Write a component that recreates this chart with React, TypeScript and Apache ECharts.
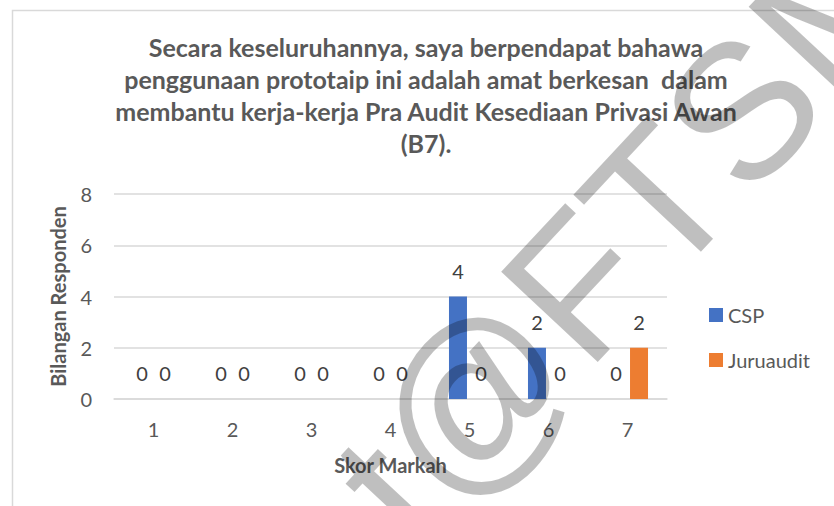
import React, { useEffect, useRef } from "react";
import * as echarts from "echarts";

const categories = ["1", "2", "3", "4", "5", "6", "7"];
const cspValues = [0, 0, 0, 0, 4, 2, 0];
const juruauditValues = [0, 0, 0, 0, 0, 0, 2];
const yTicks = { min: 0, max: 8, interval: 2 };
const titleText =
  "Secara keseluruhannya, saya berpendapat bahawa\npenggunaan prototaip ini adalah amat berkesan  dalam\nmembantu kerja-kerja Pra Audit Kesediaan Privasi Awan\n(B7).";
const watermarkText = "t@FTSM";

const FONT = "Lato, 'Open Sans', sans-serif";

export default function App() {
  const ref = useRef<HTMLDivElement>(null);
  useEffect(() => {
    if (!ref.current) return;
    const chart = echarts.init(ref.current, null, { renderer: "svg" });
    const rot = (47 * Math.PI) / 180;
    chart.setOption({
      animation: false,
      backgroundColor: "#ffffff",
      title: {
        text: titleText,
        left: 426,
        top: 31,
        padding: 0,
        textAlign: "center",
        textStyle: {
          fontFamily: FONT,
          fontWeight: "bold",
          fontSize: 25,
          lineHeight: 32,
          color: "#595959",
        },
      },
      legend: {
        orient: "vertical",
        left: 709,
        top: 305,
        padding: 0,
        itemWidth: 14,
        itemHeight: 14,
        itemGap: 25,
        icon: "rect",
        textStyle: { fontFamily: FONT, fontSize: 20, lineHeight: 20, color: "#595959" },
        data: ["CSP", "Juruaudit"],
      },
      grid: { left: 114, right: 167, top: 194, bottom: 107, containLabel: false },
      xAxis: {
        type: "category",
        data: categories,
        name: "Skor Markah",
        nameLocation: "middle",
        nameGap: 56,
        nameTextStyle: { fontFamily: FONT, fontWeight: "bold", fontSize: 20, color: "#595959" },
        axisLine: { show: true, lineStyle: { color: "#d9d9d9", width: 1.5 } },
        axisTick: { show: false },
        axisLabel: { fontFamily: FONT, fontSize: 20, color: "#595959", margin: 20 },
      },
      yAxis: {
        type: "value",
        min: yTicks.min,
        max: yTicks.max,
        interval: yTicks.interval,
        name: "Bilangan Responden",
        nameLocation: "middle",
        nameGap: 46,
        nameTextStyle: { fontFamily: FONT, fontWeight: "bold", fontSize: 20, color: "#595959" },
        axisLine: { show: false },
        axisTick: { show: false },
        axisLabel: { fontFamily: FONT, fontSize: 20, color: "#595959", margin: 22 },
        splitLine: { lineStyle: { color: "#d9d9d9", width: 1.5 } },
      },
      series: [
        {
          name: "CSP",
          type: "bar",
          data: cspValues,
          barWidth: 18,
          barGap: "28%",
          itemStyle: { color: "#4472c4" },
          label: {
            show: true,
            position: "top",
            distance: 16,
            fontFamily: FONT,
            fontSize: 20,
            color: "#404040",
          },
        },
        {
          name: "Juruaudit",
          type: "bar",
          data: juruauditValues,
          barWidth: 18,
          barGap: "28%",
          itemStyle: { color: "#ed7d31" },
          label: {
            show: true,
            position: "top",
            distance: 16,
            fontFamily: FONT,
            fontSize: 20,
            color: "#404040",
          },
        },
      ],
      graphic: [
        {
          type: "rect",
          silent: true,
          z: -1,
          shape: { x: 12.5, y: 10.5, width: 840, height: 520 },
          style: { fill: "none", stroke: "#d9d9d9", lineWidth: 1.5 },
        },
        {
          type: "text",
          silent: true,
          z: 100,
          x: 632,
          y: 228,
          rotation: rot,
          style: {
            text: watermarkText,
            font: "192px 'Liberation Sans', Arial, sans-serif",
            fill: "rgba(0,0,0,0.25)",
            textAlign: "center",
            textVerticalAlign: "middle",
          },
        },
      ],
    });
    return () => chart.dispose();
  }, []);
  return (
    <div
      ref={ref}
      style={{ position: "fixed", left: 0, top: 0, width: 834, height: 506 }}
    />
  );
}
